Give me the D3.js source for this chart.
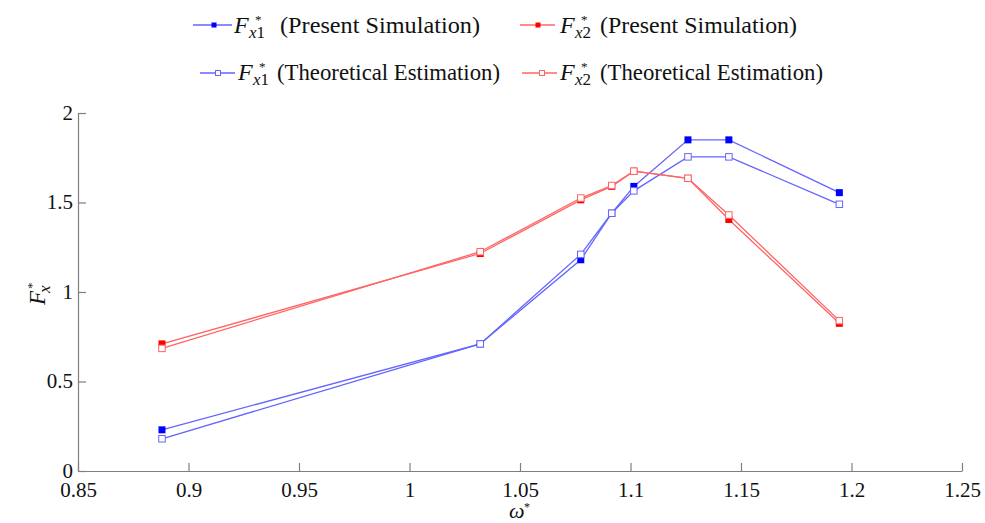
<!DOCTYPE html>
<html><head><meta charset="utf-8">
<script src="https://cdn.jsdelivr.net/npm/d3@7"></script>
<style>
@font-face{font-family:"ChartSerif";src:local("Liberation Serif"),local("LiberationSerif"),local("Liberation Serif Regular"),local("LiberationSerif-Regular");font-style:normal;}
@font-face{font-family:"ChartSerif";src:local("Liberation Serif Italic"),local("LiberationSerif-Italic");font-style:italic;}
body{margin:0;background:#fff;}
#c{display:block;}
#c text{font-family:"Liberation Serif","Tinos","Nimbus Roman","FreeSerif","ChartSerif","Times New Roman";}
</style>
</head>
<body><svg id="c" width="985" height="523"></svg>
<script>
const omega = [0.888, 1.032, 1.0775, 1.0915, 1.1015, 1.126, 1.1445, 1.1945];
const fx1Sim = [0.23, 0.71, 1.18, 1.44, 1.59, 1.85, 1.85, 1.555];
const fx1Theory = [0.18, 0.71, 1.21, 1.44, 1.565, 1.755, 1.755, 1.49];
const fx2Sim = [0.71, 1.215, 1.515, 1.59, 1.675, 1.635, 1.405, 0.825];
const fx2Theory = [0.685, 1.225, 1.525, 1.595, 1.675, 1.635, 1.43, 0.84];
const xTicks = [0.85, 0.9, 0.95, 1, 1.05, 1.1, 1.15, 1.2, 1.25];
const xTickLabels = ["0.85","0.9","0.95","1","1.05","1.1","1.15","1.2","1.25"];
const yTicks = [0, 0.5, 1, 1.5, 2];
const yTickLabels = ["0","0.5","1","1.5","2"];
const legendNames = ["(Present Simulation)","(Present Simulation)","(Theoretical Estimation)","(Theoretical Estimation)"];
const legendSubs = ["1","2","1","2"];

const SERIF = '"Liberation Serif", Tinos, "Nimbus Roman", FreeSerif, ChartSerif, "Times New Roman"';

function draw(){
  const svg = d3.select("#c");
  svg.selectAll("*").remove();
  const x = d3.scaleLinear().domain([0.85,1.25]).range([78,962]);
  const y = d3.scaleLinear().domain([0,2]).range([471,113]);
  const axisCol = "#7f7f7f";

  const gx = svg.append("g").attr("transform","translate(0,471)")
    .call(d3.axisBottom(x).tickValues(xTicks).tickFormat((d,i)=>xTickLabels[i])
      .tickSizeInner(-8).tickSizeOuter(0).tickPadding(11));
  const gy = svg.append("g").attr("transform","translate(78,0)")
    .call(d3.axisLeft(y).tickValues(yTicks).tickFormat((d,i)=>yTickLabels[i])
      .tickSizeInner(-8).tickSizeOuter(0).tickPadding(5));
  [gx,gy].forEach(g=>{
    g.attr("font-family",SERIF).attr("font-size",21);
    g.selectAll("path,line").attr("stroke",axisCol).attr("stroke-width",1.2);
    g.selectAll("text").attr("fill","#111");
  });
  gy.selectAll("text").attr("dy","0.3em");

  const series = [
    {vals: fx1Sim, line:"#6464ff", mark:"#0000ff", filled:true},
    {vals: fx2Sim, line:"#ff6464", mark:"#ff0000", filled:true},
    {vals: fx1Theory, line:"#6464ff", mark:"#6464ff", filled:false},
    {vals: fx2Theory, line:"#ff6464", mark:"#ff6464", filled:false}
  ];
  const line = d3.line().x((d,i)=>x(omega[i])).y(d=>y(d));
  series.forEach(s=>{
    svg.append("path").datum(s.vals).attr("d",line).attr("fill","none")
      .attr("stroke",s.line).attr("stroke-width",1.3);
  });
  series.forEach(s=>{
    const ms = s.filled ? 7 : 6.5;
    svg.selectAll(null).data(s.vals).enter().append("rect")
      .attr("x",(d,i)=>x(omega[i])-ms/2).attr("y",d=>y(d)-ms/2)
      .attr("width",ms).attr("height",ms)
      .attr("fill",s.filled?s.mark:"#fff")
      .attr("stroke",s.filled?"none":s.mark).attr("stroke-width",1);
  });

  function txt(parent,px,py,size,str,italic){
    const t = parent.append("text").attr("x",px).attr("y",py).attr("fill","#111")
      .attr("font-size",size).attr("font-family",SERIF).text(str);
    if (italic) t.attr("font-style","italic");
    return t;
  }

  const leg = [
    {x1:193,x2:232,mx:214,ly:25,fx:234,tx:280,base:33,tl:200,s:series[0]},
    {x1:520,x2:555,mx:538,ly:25,fx:560,tx:600,base:33,tl:197,s:series[1]},
    {x1:200,x2:235,mx:218,ly:73,fx:238,tx:277,base:80,tl:223,s:series[2]},
    {x1:522,x2:557,mx:542,ly:73,fx:560,tx:600,base:80,tl:223,s:series[3]}
  ];
  leg.forEach((L,i)=>{
    svg.append("line").attr("x1",L.x1).attr("x2",L.x2).attr("y1",L.ly).attr("y2",L.ly)
      .attr("stroke",L.s.line).attr("stroke-width",1.3);
    const ms = 5;
    svg.append("rect").attr("x",L.mx-ms/2).attr("y",L.ly-ms/2).attr("width",ms).attr("height",ms)
      .attr("fill",L.s.filled?L.s.mark:"#fff").attr("stroke",L.s.filled?"none":L.s.mark);
    txt(svg,L.fx,L.base,24,"F",true);
    txt(svg,L.fx+21,L.base-9,13,"*",false);
    const sub = txt(svg,L.fx+15,L.base+5,17,"",false);
    sub.append("tspan").attr("font-style","italic").text("x");
    sub.append("tspan").text(legendSubs[i]);
    txt(svg,L.tx,L.base,24,legendNames[i],false)
      .attr("textLength",L.tl).attr("lengthAdjust","spacingAndGlyphs");
  });

  const yl = svg.append("g").attr("transform","translate(45,305) rotate(-90)");
  txt(yl,0,0,23,"F",true);
  txt(yl,16,-9,13,"*",false);
  txt(yl,12,5,17,"x",true);

  txt(svg,509,518,22,"ω",true);
  txt(svg,524,511,12,"*",false);
}
draw();
if (document.fonts && document.fonts.ready) document.fonts.ready.then(draw);
</script></body></html>
